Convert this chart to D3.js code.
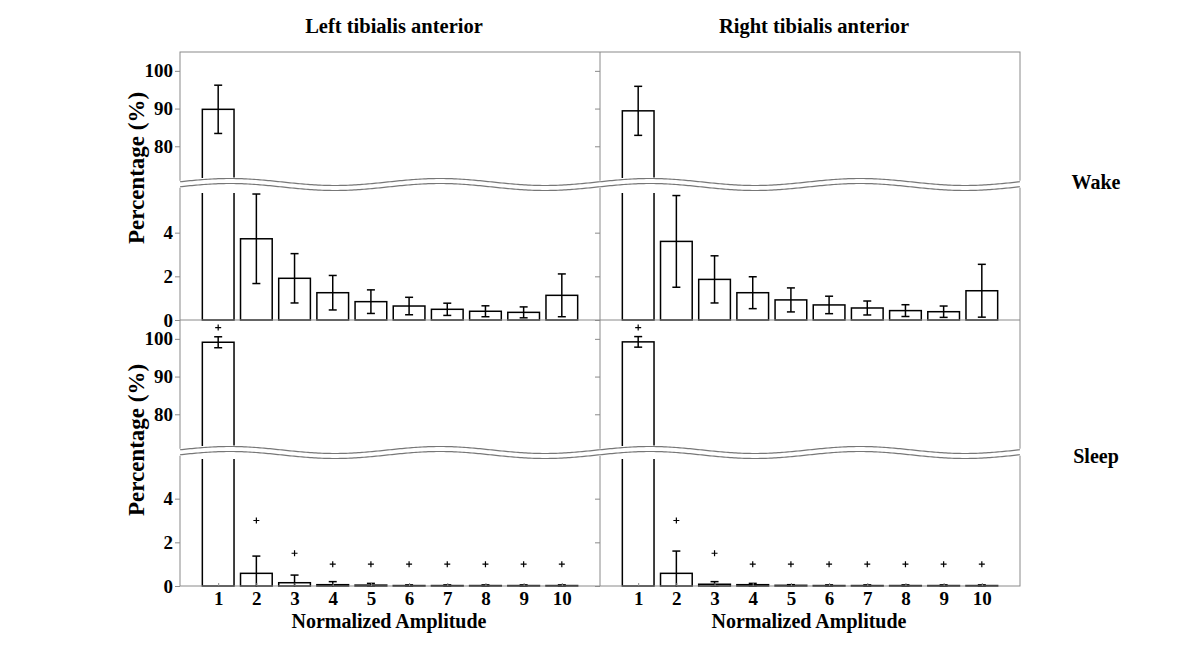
<!DOCTYPE html>
<meta charset="utf-8">
<style>
    body {
        margin: 0;
        background: #fff;
        font-family: "Liberation Serif", "Times New Roman", serif;
    }

    .bar {
        fill: #fff;
        stroke: #000;
        stroke-width: 1.5px;
    }

    .err {
        stroke: #000;
        stroke-width: 1.5px;
        fill: none;
    }

    .frame {
        stroke: #8a8a8a;
        stroke-width: 1px;
        fill: none;
    }

    .axis path {
        display: none;
    }

    .axis line {
        stroke: #8a8a8a;
    }

    .axis text,
    .lbl {
        font-family: "Liberation Serif", "Times New Roman", serif;
        font-weight: bold;
        fill: #000;
    }

    .axis text {
        font-size: 19px;
    }

    .lbl {
        font-size: 20px;
    }
</style>

<body>
    <script src="https://d3js.org/d3.v7.min.js"></script>
    <script>
        // categories on the x axis
        var categories = [1, 2, 3, 4, 5, 6, 7, 8, 9, 10];

        // wake, mean and error (%)
        var wakeLeftMean = [89.8, 3.72, 1.91, 1.25, 0.84, 0.64, 0.49, 0.40, 0.35, 1.13];
        var wakeLeftErr = [6.4, 2.05, 1.13, 0.79, 0.54, 0.40, 0.28, 0.25, 0.25, 0.98];
        var wakeRightMean = [89.4, 3.60, 1.86, 1.25, 0.92, 0.69, 0.55, 0.43, 0.38, 1.34];
        var wakeRightErr = [6.5, 2.10, 1.08, 0.73, 0.55, 0.40, 0.32, 0.27, 0.26, 1.21];

        // sleep, mean and error (%)
        var sleepLeftMean = [99.1, 0.58, 0.15, 0.06, 0.04, 0.02, 0.02, 0.02, 0.02, 0.02];
        var sleepLeftErr = [1.45, 0.79, 0.35, 0.14, 0.08, 0.03, 0.03, 0.03, 0.03, 0.03];
        var sleepRightMean = [99.2, 0.58, 0.08, 0.06, 0.03, 0.02, 0.02, 0.02, 0.02, 0.02];
        var sleepRightErr = [1.4, 1.02, 0.12, 0.06, 0.03, 0.03, 0.03, 0.03, 0.03, 0.03];

        // "+" markers in the sleep row
        var sleepLeftMarks = [103, 3, 1.5, 1, 1, 1, 1, 1, 1, 1];
        var sleepRightMarks = [103, 3, 1.5, 1, 1, 1, 1, 1, 1, 1];

        // tick labels
        var highTicks = [80, 90, 100];
        var lowTicks = [0, 2, 4];

        var colTitles = ["Left tibialis anterior", "Right tibialis anterior"];
        var rowTitles = ["Wake", "Sleep"];

        var width = 1200,
            height = 651;

        var cols = [180, 600],
            panelW = 420;
        var rows = [{ top: 52, bottom: 320 }, { top: 320, bottom: 586 }];

        var panels = [
            { r: 0, c: 0, mean: wakeLeftMean, err: wakeLeftErr, marks: null },
            { r: 0, c: 1, mean: wakeRightMean, err: wakeRightErr, marks: null },
            { r: 1, c: 0, mean: sleepLeftMean, err: sleepLeftErr, marks: sleepLeftMarks },
            { r: 1, c: 1, mean: sleepRightMean, err: sleepRightErr, marks: sleepRightMarks }
        ];

        var svg = d3.select("body").append("svg")
            .attr("width", width)
            .attr("height", height);

        var defs = svg.append("defs");
        var half = 0.415; // half bar width, in category units

        panels.forEach(function (p, k) {
            var row = rows[p.r];
            var x0 = cols[p.c];
            var x = d3.scaleLinear().domain([0, 11]).range([x0, x0 + panelW]);
            var yHi = d3.scaleLinear().domain([70, 105]).range([row.top + 132, row.top]);
            var yLo = d3.scaleLinear().domain([0, 6]).range([row.bottom, row.bottom - 131]);

            // clip regions for the two halves of the broken axis
            defs.append("clipPath").attr("id", "hi" + k).append("rect")
                .attr("x", x0).attr("y", row.top)
                .attr("width", panelW).attr("height", 126);
            defs.append("clipPath").attr("id", "lo" + k).append("rect")
                .attr("x", x0).attr("y", row.bottom - 127)
                .attr("width", panelW).attr("height", 128);

            [{ y: yHi, clip: "hi", base: 70, top: 105 }, { y: yLo, clip: "lo", base: 0, top: 6 }].forEach(function (s) {
                var g = svg.append("g").attr("clip-path", "url(#" + s.clip + k + ")");
                var y = s.y;

                g.selectAll("rect")
                    .data(categories.filter(function (d, i) { return p.mean[i] > s.base; }))
                    .enter().append("rect")
                    .attr("class", "bar")
                    .attr("x", function (d) { return x(d - half); })
                    .attr("width", function (d) { return x(d + half) - x(d - half); })
                    .attr("y", function (d) { return y(Math.min(p.mean[d - 1], s.top + 1)); })
                    .attr("height", function (d) {
                        return y(s.base) - y(Math.min(p.mean[d - 1], s.top + 1)) + (s.base === 70 ? 20 : 0);
                    });

                // error bars
                categories.forEach(function (d, i) {
                    var m = p.mean[i], e = p.err[i];
                    if (m + e < s.base || m - e > s.top) return;
                    var eg = g.append("g").attr("class", "err");
                    eg.append("line")
                        .attr("x1", x(d)).attr("x2", x(d))
                        .attr("y1", y(m - e)).attr("y2", y(m + e));
                    [m - e, m + e].forEach(function (v) {
                        eg.append("line")
                            .attr("x1", x(d) - 4).attr("x2", x(d) + 4)
                            .attr("y1", y(v)).attr("y2", y(v));
                    });
                });

                // markers
                if (p.marks) {
                    categories.forEach(function (d, i) {
                        var v = p.marks[i];
                        if (v < s.base || v > s.top) return;
                        g.append("path")
                            .attr("d", "M-3,0H3M0,-3V3")
                            .attr("transform", "translate(" + x(d) + "," + y(v) + ")")
                            .attr("stroke", "#000")
                            .attr("stroke-width", 1.2);
                    });
                }

                // y axis
                var ax = d3.axisLeft(y).tickValues(s.base === 70 ? highTicks : lowTicks)
                    .tickFormat(d3.format("d"))
                    .tickSize(5).tickPadding(2);
                var ga = svg.append("g").attr("class", "axis")
                    .attr("transform", "translate(" + x0 + ",0)")
                    .call(ax);
                if (p.c === 1) ga.selectAll("text").remove();
            });

            // x axis on the bottom row
            if (p.r === 1) {
                svg.append("g").attr("class", "axis")
                    .attr("transform", "translate(0," + row.bottom + ")")
                    .call(d3.axisBottom(x).tickValues(categories).tickSize(-3).tickPadding(6));
                svg.append("text").attr("class", "lbl")
                    .attr("x", x0 + 209).attr("y", 628)
                    .attr("text-anchor", "middle")
                    .text("Normalized Amplitude");
            }
        });

        // frame
        svg.append("rect").attr("class", "frame")
            .attr("x", 180).attr("y", 52).attr("width", 840).attr("height", 534);
        svg.append("line").attr("class", "frame")
            .attr("x1", 600).attr("x2", 600).attr("y1", 52).attr("y2", 586);
        svg.append("line").attr("class", "frame")
            .attr("x1", 180).attr("x2", 1020).attr("y1", 320).attr("y2", 320);

        // wavy axis breaks
        rows.forEach(function (row) {
            var c = row.top + 132.5;
            var xs = d3.range(178, 1023, 2);
            var wave = function (off) {
                return xs.map(function (px) {
                    return [px, c + off - 3.5 * Math.cos(2 * Math.PI * (px - 230) / 210)];
                });
            };
            var top = wave(-2.5), bot = wave(2.5);
            var band = wave(-3.5).concat(wave(3.5).reverse());
            svg.append("path")
                .attr("d", d3.line()(band) + "Z")
                .attr("fill", "#fff");
            [top, bot].forEach(function (pts) {
                svg.append("path")
                    .attr("d", d3.line()(pts.filter(function (q) { return q[0] >= 180 && q[0] <= 1020; })))
                    .attr("fill", "none")
                    .attr("stroke", "#777")
                    .attr("stroke-width", 1.2);
            });
        });

        // titles and labels
        colTitles.forEach(function (t, i) {
            svg.append("text").attr("class", "lbl")
                .attr("x", cols[i] + 214).attr("y", 33)
                .attr("text-anchor", "middle")
                .style("font-size", "20.5px")
                .text(t);
        });
        rowTitles.forEach(function (t, i) {
            svg.append("text").attr("class", "lbl")
                .attr("x", 1096).attr("y", i === 0 ? 189 : 463)
                .attr("text-anchor", "middle")
                .text(t);
            svg.append("text").attr("class", "lbl")
                .attr("transform", "translate(144," + (i === 0 ? 168 : 440) + ") rotate(-90)")
                .attr("text-anchor", "middle")
                .style("font-size", "23px")
                .text("Percentage (%)");
        });
    </script>
</body>
